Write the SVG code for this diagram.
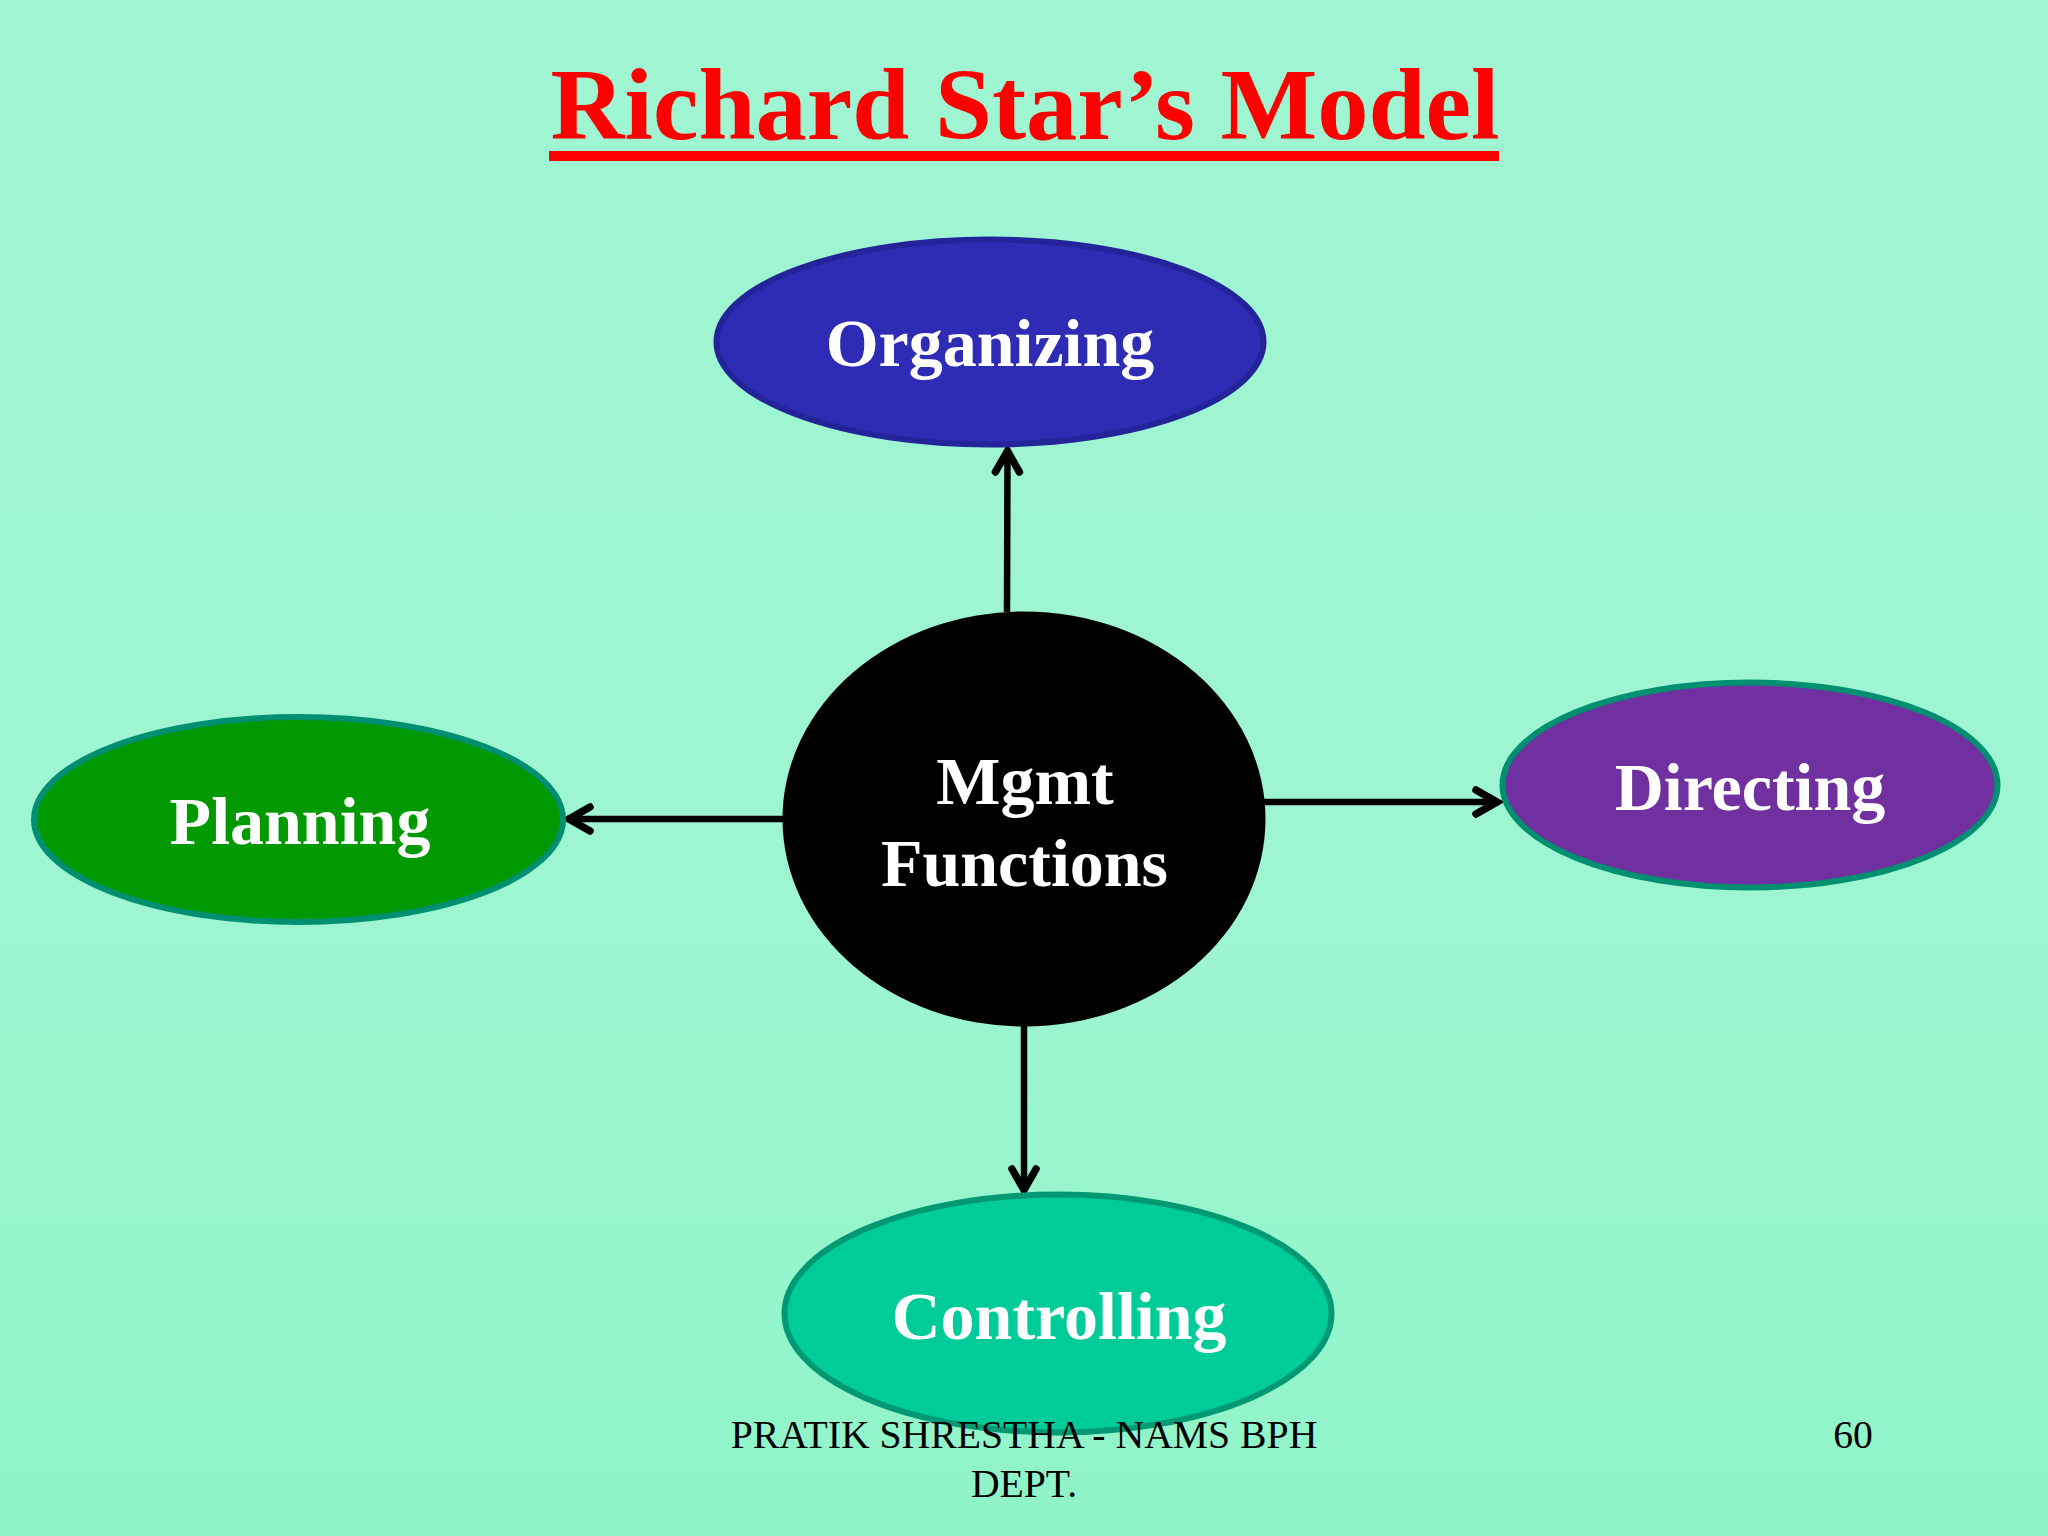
<svg xmlns="http://www.w3.org/2000/svg" width="2048" height="1536" viewBox="0 0 2048 1536">
<style>
text{font-family:"Liberation Serif","Times New Roman",serif;text-anchor:middle}
.label{font-weight:bold;font-size:68px;fill:#fff}
.title{font-weight:bold;font-size:102.500px;fill:#f00}
.foot{font-size:39.700px;fill:#000}
.edge{fill:none;stroke:#000;stroke-width:6.500}
.node{stroke-width:6}
</style>
<defs>
<linearGradient id="bg" x1="0" y1="0" x2="0" y2="1"><stop offset="0" stop-color="#A0F5D3"/><stop offset="0.6" stop-color="#9DF5D1"/><stop offset="1" stop-color="#90F4C8"/></linearGradient>
<marker id="arrow" markerUnits="userSpaceOnUse" markerWidth="40" markerHeight="40" refX="30" refY="20" orient="auto"><path d="M7 8 L28 20 L7 32" fill="none" stroke="#000" stroke-width="7.500" stroke-linecap="round" stroke-linejoin="miter"/></marker>
</defs>
<rect width="2048" height="1536" fill="url(#bg)"/>
<g id="title"><text class="title" x="1025" y="139">Richard Star’s Model</text><rect x="549" y="151" width="950" height="10" fill="#f00"/></g>
<g id="connectors">
<path class="edge" marker-end="url(#arrow)" d="M1007 612 L1007.500 449"/>
<path class="edge" marker-end="url(#arrow)" d="M783 819 L567 819"/>
<path class="edge" marker-end="url(#arrow)" d="M1264 802 L1499 802"/>
<path class="edge" marker-end="url(#arrow)" d="M1024 1025 L1024 1192"/>
</g>
<g id="organizing"><ellipse class="node" cx="990" cy="342" rx="273.500" ry="102.500" fill="#2E2BB5" stroke="#23249A"/><text class="label" x="990" y="366">Organizing</text></g>
<g id="planning"><ellipse class="node" cx="298.500" cy="819.500" rx="264.500" ry="102.500" fill="#009900" stroke="#008F70"/><text class="label" x="300" y="844">Planning</text></g>
<g id="directing"><ellipse class="node" cx="1750" cy="785" rx="247.500" ry="102.500" fill="#7030A0" stroke="#008F70"/><text class="label" x="1750" y="810">Directing</text></g>
<g id="controlling"><ellipse class="node" cx="1058" cy="1313.500" rx="273.500" ry="119" fill="#00CC99" stroke="#009973"/><text class="label" x="1059" y="1339">Controlling</text></g>
<g id="mgmt"><ellipse cx="1024" cy="819" rx="241.500" ry="207.500" fill="#000"/><text class="label" x="1025" y="804">Mgmt</text><text class="label" x="1024.500" y="886">Functions</text></g>
<g id="footer"><text class="foot" x="1024" y="1448">PRATIK SHRESTHA - NAMS BPH</text><text class="foot" x="1024" y="1497">DEPT.</text><text class="foot" x="1853" y="1448">60</text></g>
</svg>
